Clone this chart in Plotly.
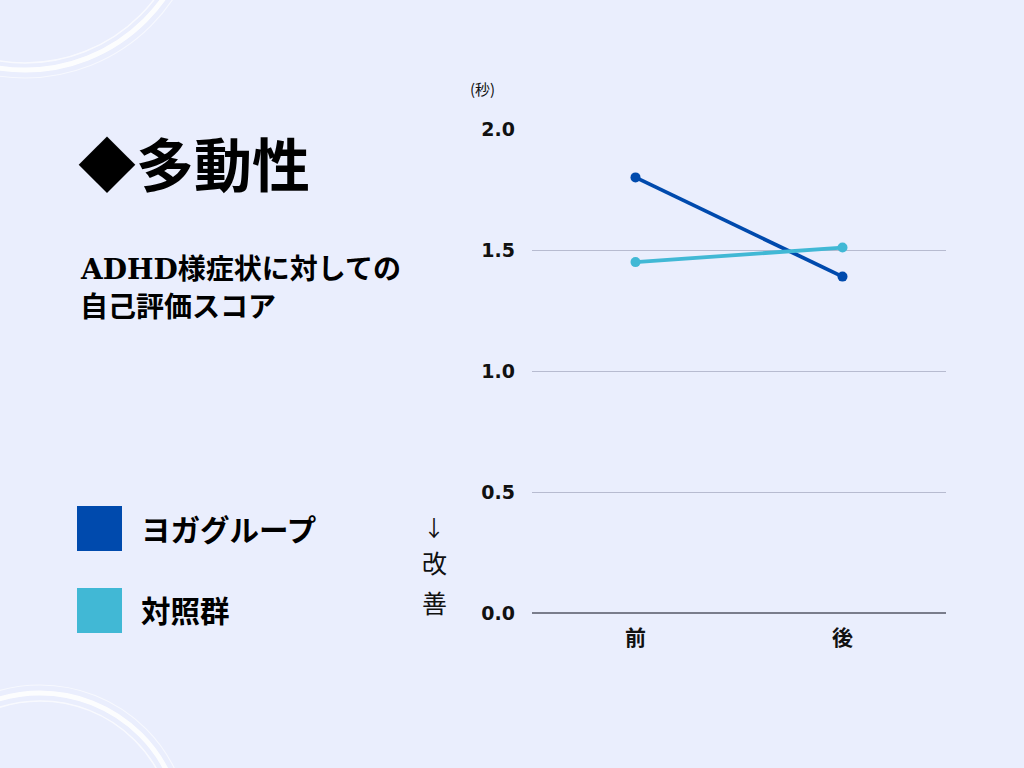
import plotly.graph_objects as go

# ---- data ----
categories = ["前", "後"]
series_names = ["ヨガグループ", "対照群"]
yoga_values = [1.80, 1.39]
control_values = [1.45, 1.51]
y_ticks = [0.0, 0.5, 1.0, 1.5, 2.0]
y_tick_labels = ["0.0", "0.5", "1.0", "1.5", "2.0"]

W, H = 1024, 768
BG = "#EAEEFD"
C_YOGA = "#004AAD"
C_CTRL = "#41B8D5"
JP = "Noto Sans CJK JP"


def px(x):
    return x / W


def py(y):
    return 1 - y / H


fig = go.Figure()
for name, vals, col in [(series_names[0], yoga_values, C_YOGA),
                        (series_names[1], control_values, C_CTRL)]:
    fig.add_trace(go.Scatter(
        x=categories, y=vals, mode="lines+markers", name=name,
        line=dict(color=col, width=3.8),
        marker=dict(color=col, size=10),
        showlegend=False, hoverinfo="skip",
    ))

shapes = []
# decorative arcs
for (cx, cy, r, w, op) in [(25, -100, 170, 5, 0.9), (25, -100, 163, 1.5, 0.7),
                           (25, -100, 178, 1.2, 0.6),
                           (40, 835, 142, 5, 0.9), (40, 835, 134, 1.5, 0.7),
                           (40, 835, 150, 1.2, 0.6)]:
    shapes.append(dict(type="circle", xref="paper", yref="paper",
                       x0=px(cx - r), x1=px(cx + r), y0=py(cy + r), y1=py(cy - r),
                       line=dict(color="white", width=w), opacity=op, layer="below"))
# legend squares
for (y0, col) in [(506, C_YOGA), (588, C_CTRL)]:
    shapes.append(dict(type="rect", xref="paper", yref="paper",
                       x0=px(77), x1=px(122), y0=py(y0 + 45), y1=py(y0),
                       fillcolor=col, line=dict(width=0)))

ann = []
ann.append(dict(x=px(76), y=py(162), xref="paper", yref="paper", xanchor="left",
                yanchor="middle", showarrow=False, text="<b>◆多動性</b>",
                font=dict(family=JP, size=58, color="#000000")))
ann.append(dict(x=px(78), y=py(267), xref="paper", yref="paper", xanchor="left",
                yanchor="middle", showarrow=False,
                text="<b><span style='font-family:DejaVu Serif'>ADHD</span>様症状に対しての</b>",
                font=dict(family=JP, size=28, color="#000000")))
ann.append(dict(x=px(78), y=py(305), xref="paper", yref="paper", xanchor="left",
                yanchor="middle", showarrow=False, text="<b>自己評価スコア</b>",
                font=dict(family=JP, size=28, color="#000000")))
ann.append(dict(x=px(139), y=py(528), xref="paper", yref="paper", xanchor="left",
                yanchor="middle", showarrow=False, text="<b>" + series_names[0] + "</b>",
                font=dict(family=JP, size=29.5, color="#000000")))
ann.append(dict(x=px(139), y=py(609), xref="paper", yref="paper", xanchor="left",
                yanchor="middle", showarrow=False, text="<b>" + series_names[1] + "</b>",
                font=dict(family=JP, size=29.5, color="#000000")))
for ch, yy, sz in [("↓", 526, 22), ("改", 562, 25), ("善", 602, 25)]:
    ann.append(dict(x=px(434), y=py(yy), xref="paper", yref="paper", xanchor="center",
                    yanchor="middle", showarrow=False, text=ch,
                    font=dict(family=JP, size=sz, color="#111111")))
ann.append(dict(x=px(482), y=py(89), xref="paper", yref="paper", xanchor="center",
                yanchor="middle", showarrow=False, text="(秒)",
                font=dict(family=JP, size=15, color="#111111")))

fig.update_layout(
    width=W, height=H,
    margin=dict(l=0, r=0, t=0, b=0, pad=0),
    paper_bgcolor=BG, plot_bgcolor=BG,
    shapes=shapes, annotations=ann,
    xaxis=dict(domain=[px(532), px(946)], range=[-0.5, 1.5], type="category",
               showgrid=False, zeroline=False, showline=False, ticks="",
               tickfont=dict(family=JP, size=21, color="#111111"),
               ticklabelstandoff=10, automargin=False),
    yaxis=dict(domain=[py(613), py(129)], range=[0, 2.0],
               tickvals=y_ticks, ticktext=["<b>%s</b>" % t for t in y_tick_labels],
               showgrid=True, gridcolor="#B7BBD0", gridwidth=1,
               zeroline=True, zerolinecolor="#7A7D8C", zerolinewidth=1.2,
               showline=False, ticks="",
               tickfont=dict(family="DejaVu Sans", size=19, color="#111111"),
               ticklabelstandoff=16, automargin=False),
)
fig.update_xaxes(ticktext=["<b>%s</b>" % c for c in categories], tickvals=categories)

fig.write_html("out.html", config={"displayModeBar": False, "staticPlot": True},
               post_script="document.body.style.margin='0';document.body.style.padding='0';"
                           "document.body.style.overflow='hidden';"
                           "document.documentElement.style.overflow='hidden';")
